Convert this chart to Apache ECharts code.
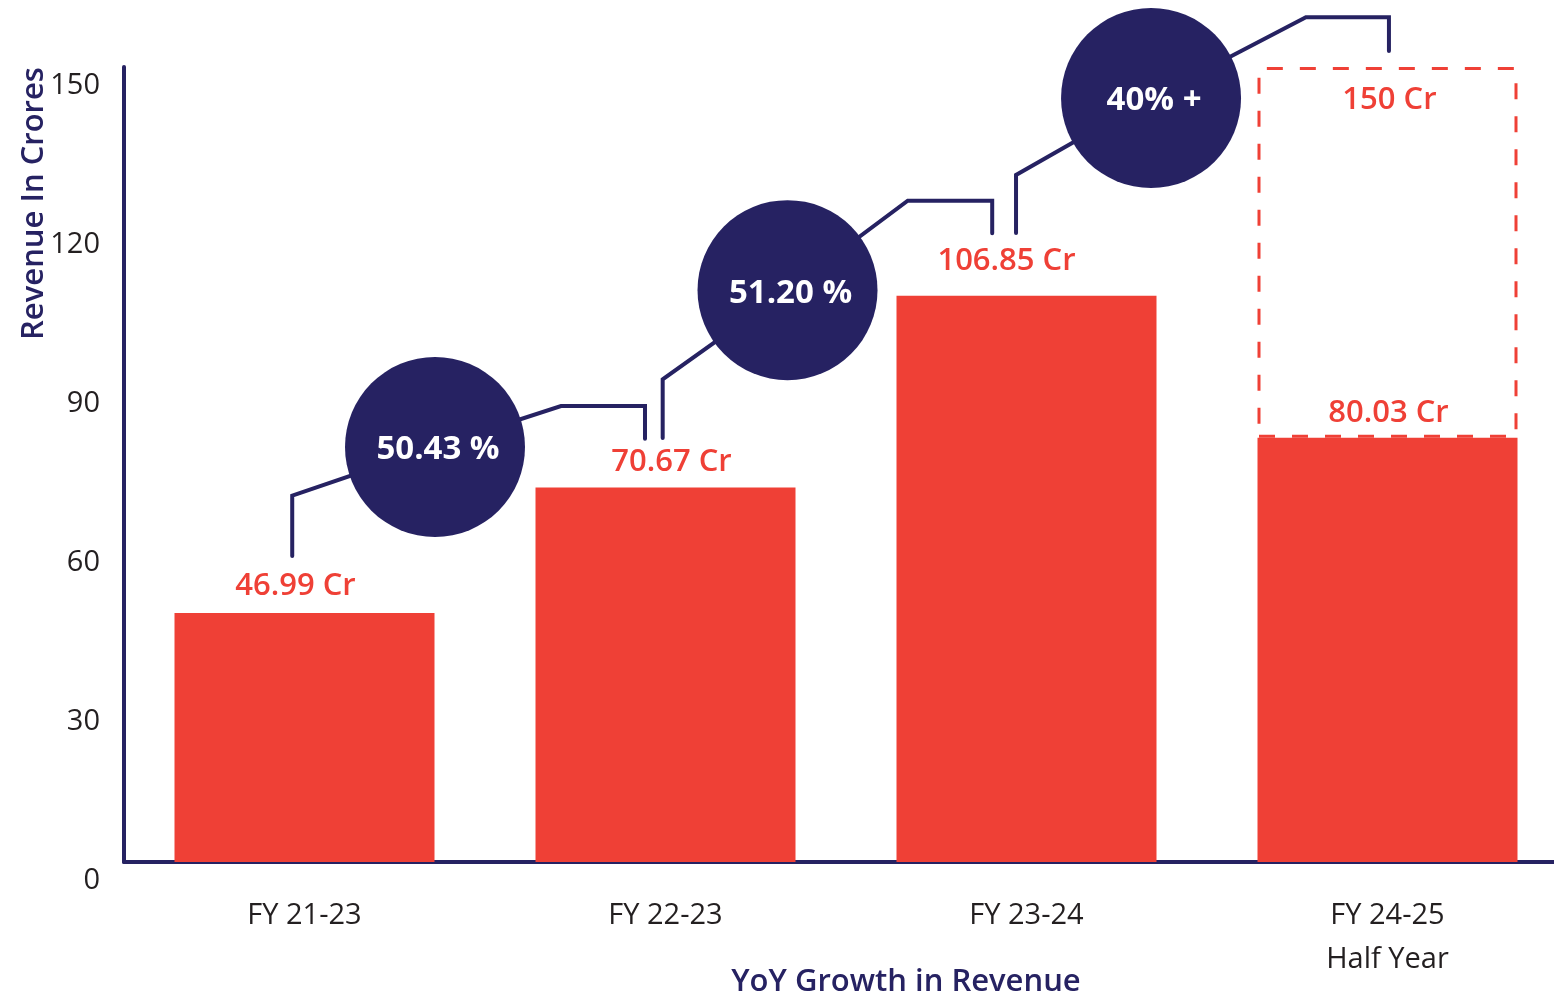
<!DOCTYPE html>
<html>
<head>
<meta charset="utf-8">
<script src="https://cdn.jsdelivr.net/npm/echarts@6/dist/echarts.min.js"></script>
<style>
html,body{margin:0;padding:0;background:#fff;overflow:hidden;width:100%;height:100%;}
#chart{width:100vw;height:100vh;}
</style>
</head>
<body>
<div id="chart"></div>
<script>
// ---- data ----
const categories = ['FY 21-23', 'FY 22-23', 'FY 23-24', 'FY 24-25\nHalf Year'];
const revenue = [46.99, 70.67, 106.85, 80.03];
const target = [null, null, null, 150];
const growthLabels = ['50.43 %', '51.20 %', '40% +'];
const yMin = 0, yMax = 150, yInterval = 30;
const xAxisName = 'YoY Growth in Revenue';
const yAxisName = 'Revenue In Crores';

// annotation anchors in data units (x: category position, y: crores)
const bubbleAnchors = [[0.3615, 78.3], [1.338, 107.9], [2.345, 144.15]];
const connectors = [
  [[-0.034, 57.74], [-0.034, 69.11], [0.3615, 78.3], [0.7105, 86.04], [0.9432, 86.04], [0.9432, 79.87]],
  [[0.9922, 80.0], [0.9922, 91.08], [1.338, 107.87], [1.671, 124.77], [1.905, 124.77], [1.905, 118.62]],
  [[1.971, 118.68], [1.971, 129.62], [2.345, 144.15], [2.774, 159.4], [3.004, 159.4], [3.004, 153.0]]
];

// ---- styles ----
const NAVY = '#262262';
const RED = '#EF4036';
const FONT = 'Open Sans';
const labelTweaks = [
  {offset: [-9, 0], distance: 11},
  {offset: [6, 0], distance: 10},
  {offset: [-20, 0], distance: 19},
  {offset: [1, 0], distance: 9}
];

const chart = echarts.init(document.getElementById('chart'));

const series = [
  {
    name: 'Revenue',
    type: 'bar',
    stack: 'rev',
    barWidth: 260,
    xAxisIndex: 0,
    yAxisIndex: 0,
    z: 2,
    data: revenue.map((v, i) => ({
      value: v,
      label: {offset: labelTweaks[i].offset, distance: labelTweaks[i].distance}
    })),
    itemStyle: {color: RED},
    label: {
      show: true,
      position: 'top',
      color: RED,
      fontFamily: FONT,
      fontWeight: 600,
      fontSize: 31,
      formatter: p => p.value.toFixed(2) + ' Cr'
    }
  },
  {
    name: 'Target',
    type: 'bar',
    stack: 'rev',
    barWidth: 260,
    xAxisIndex: 0,
    yAxisIndex: 0,
    z: 2,
    data: target.map((t, i) => t == null ? '-' : +(t - revenue[i]).toFixed(2)),
    itemStyle: {
      color: 'rgba(255,255,255,0)',
      borderColor: RED,
      borderWidth: 3,
      borderType: [16, 17]
    },
    label: {
      show: true,
      position: 'insideTop',
      distance: 18,
      offset: [2, 0],
      color: RED,
      fontFamily: FONT,
      fontWeight: 600,
      fontSize: 31,
      formatter: p => target[p.dataIndex] + ' Cr'
    }
  }
];

connectors.forEach((path, k) => {
  series.push({
    name: 'connector' + k,
    type: 'line',
    xAxisIndex: 1,
    yAxisIndex: 0,
    data: path,
    symbol: 'none',
    clip: false,
    silent: true,
    z: 3,
    lineStyle: {color: NAVY, width: 4, cap: 'round', join: 'miter'}
  });
});

series.push({
  name: 'growth',
  type: 'scatter',
  xAxisIndex: 1,
  yAxisIndex: 0,
  clip: false,
  z: 4,
  symbol: 'circle',
  symbolSize: 180,
  data: bubbleAnchors.map((a, i) => ({value: a, name: growthLabels[i]})),
  itemStyle: {color: NAVY, opacity: 1},
  label: {
    show: true,
    position: 'inside',
    color: '#ffffff',
    fontFamily: FONT,
    fontWeight: 700,
    fontSize: 33,
    offset: [3, 3],
    formatter: p => p.name
  }
});

chart.setOption({
  animation: false,
  backgroundColor: '#ffffff',
  grid: {left: 124, right: -14, top: 67, bottom: 134, containLabel: false, outerBoundsMode: 'none'},
  xAxis: [
    {
      type: 'category',
      data: categories,
      name: xAxisName,
      nameLocation: 'middle',
      nameGap: 105,
      nameMoveOverlap: false,
      nameTextStyle: {color: NAVY, fontFamily: FONT, fontWeight: 600, fontSize: 31, padding: [0, 0, 0, 120]},
      axisLine: {show: true, lineStyle: {color: NAVY, width: 4}},
      axisTick: {show: false},
      axisLabel: {color: '#231f20', fontFamily: FONT, fontSize: 29, lineHeight: 44, margin: 32},
      splitLine: {show: false}
    },
    {
      type: 'value',
      min: -0.5,
      max: 3.5,
      show: false
    }
  ],
  yAxis: {
    type: 'value',
    min: yMin,
    max: yMax,
    interval: yInterval,
    name: yAxisName,
    nameLocation: 'middle',
    nameGap: 74,
    nameMoveOverlap: false,
    nameTextStyle: {color: NAVY, fontFamily: FONT, fontWeight: 600, fontSize: 31, padding: [0, 0, 0, 522]},
    axisLine: {show: true, onZero: false, lineStyle: {color: NAVY, width: 4, cap: 'round'}},
    axisTick: {show: false},
    splitLine: {show: false},
    axisLabel: {color: '#231f20', fontFamily: FONT, fontSize: 29, margin: 24, verticalAlign: 'top', padding: [4, 0, 0, 0]}
  },
  series: series
});
window.addEventListener('resize', () => chart.resize());
</script>
</body>
</html>
